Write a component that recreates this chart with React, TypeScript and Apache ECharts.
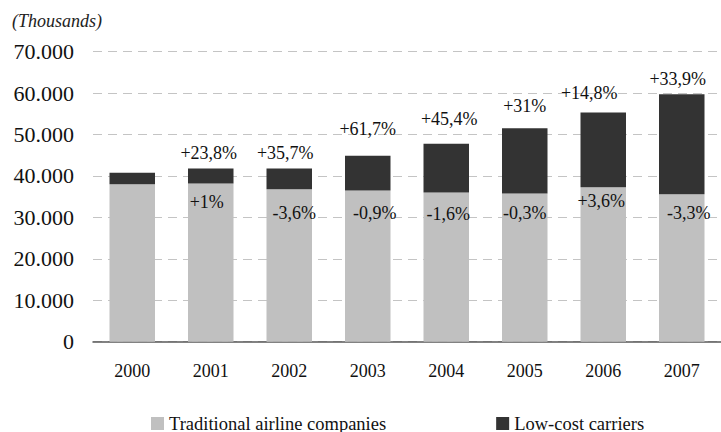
import React, { useEffect, useRef } from "react";
import * as echarts from "echarts";

const years = ["2000", "2001", "2002", "2003", "2004", "2005", "2006", "2007"];
const traditional = [38000, 38200, 36800, 36500, 36000, 35800, 37300, 35600];
const lowCost = [2800, 3600, 5000, 8400, 11800, 15700, 18000, 24100];
const traditionalGrowth = ["", "+1%", "-3,6%", "-0,9%", "-1,6%", "-0,3%", "+3,6%", "-3,3%"];
const lowCostGrowth = ["", "+23,8%", "+35,7%", "+61,7%", "+45,4%", "+31%", "+14,8%", "+33,9%"];
const yTicks = { min: 0, max: 70000, interval: 10000 };

// label nudges (layout only)
const tradLabelOffsets = [[0, 0], [-4, 5], [5, 10], [7, 9], [2, 7], [0, 6], [-2, 0], [7, 5]];
const lowLabelOffsets = [[0, 0], [-2, -2], [-4, -2], [0, -13], [3, -11], [0, -8], [-14, -6], [-4, -1]];

const FONT = "Liberation Serif";

export default function App() {
  const ref = useRef<HTMLDivElement>(null);
  useEffect(() => {
    if (!ref.current) return;
    const chart = echarts.init(ref.current, undefined, { renderer: "svg" });
    const fmt = (v: number) => String(v).replace(/\B(?=(\d{3})+(?!\d))/g, ".");
    chart.setOption({
      animation: false,
      backgroundColor: "#ffffff",
      textStyle: { fontFamily: FONT },
      title: {
        text: "(Thousands)",
        left: 7,
        top: 7,
        textStyle: { fontFamily: FONT, fontStyle: "italic", fontWeight: "normal", fontSize: 18, color: "#222" },
      },
      grid: { left: 93, top: 51.7, width: 638, height: 290 },
      legend: {
        left: 146,
        top: 409,
        itemWidth: 13,
        itemHeight: 13,
        itemGap: 110,
        icon: "rect",
        textStyle: { fontFamily: FONT, fontSize: 18.5, color: "#111" },
        data: ["Traditional airline companies", "Low-cost carriers"],
      },
      xAxis: {
        type: "category",
        data: years,
        axisLine: { lineStyle: { color: "#595959", width: 1.5 } },
        axisTick: { show: false },
        axisLabel: { fontFamily: FONT, fontSize: 18, color: "#111", margin: 20 },
      },
      yAxis: {
        type: "value",
        min: yTicks.min,
        max: yTicks.max,
        interval: yTicks.interval,
        axisLine: { show: false },
        axisTick: { show: false },
        axisLabel: { fontFamily: FONT, fontSize: 22, color: "#111", margin: 19, formatter: fmt },
        splitLine: { lineStyle: { color: "#c4c4c4", type: [9, 6], width: 1.2 } },
      },
      series: [
        {
          name: "Traditional airline companies",
          type: "bar",
          stack: "total",
          barWidth: 45.5,
          itemStyle: { color: "#c0c0c0" },
          data: traditional.map((v, i) => ({
            value: v,
            label: {
              show: traditionalGrowth[i] !== "",
              formatter: traditionalGrowth[i],
              position: "insideTop",
              offset: tradLabelOffsets[i],
              fontFamily: FONT,
              fontSize: 18,
              color: "#111",
            },
          })),
        },
        {
          name: "Low-cost carriers",
          type: "bar",
          stack: "total",
          barWidth: 45.5,
          itemStyle: { color: "#333333" },
          data: lowCost.map((v, i) => ({
            value: v,
            label: {
              show: lowCostGrowth[i] !== "",
              formatter: lowCostGrowth[i],
              position: "top",
              offset: lowLabelOffsets[i],
              fontFamily: FONT,
              fontSize: 18,
              color: "#111",
            },
          })),
        },
      ],
    });
    return () => chart.dispose();
  }, []);
  return (
    <div
      ref={ref}
      style={{ position: "fixed", left: 0, top: 0, width: 721, height: 432 }}
    />
  );
}
